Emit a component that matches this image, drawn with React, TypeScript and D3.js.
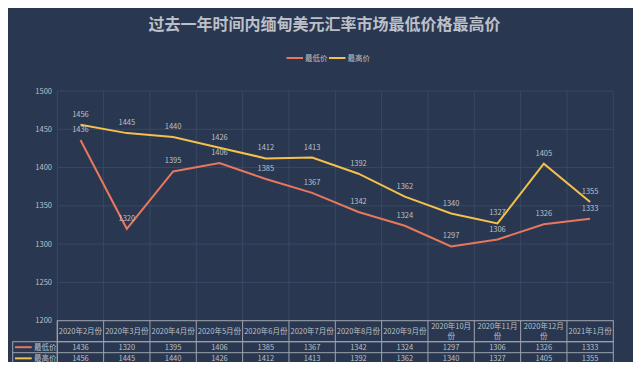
import * as d3 from "d3";

const months = [
  "2020年2月份", "2020年3月份", "2020年4月份", "2020年5月份", "2020年6月份", "2020年7月份",
  "2020年8月份", "2020年9月份", "2020年10月份", "2020年11月份", "2020年12月份", "2021年1月份",
];
const lowValues = [1436, 1320, 1395, 1406, 1385, 1367, 1342, 1324, 1297, 1306, 1326, 1333];
const highValues = [1456, 1445, 1440, 1426, 1412, 1413, 1392, 1362, 1340, 1327, 1405, 1355];
const yTicks = [1200, 1250, 1300, 1350, 1400, 1450, 1500];

const series = [
  { name: "最低价", values: lowValues, color: "#e8775d" },
  { name: "最高价", values: highValues, color: "#f3c14c" },
];

const W = 641;
const H = 370;
const BG = "#293750";
const GRID = "#3a4963";
const TEXT = "#bcc0c8";
const BORDER = "#9ea4ae";
const FONT = "'Noto Sans CJK SC', 'Noto Sans', sans-serif";

export default function App() {
  const left = 57.3;
  const right = 613.3;
  const top = 91;
  const bottom = 320.7;

  const x = d3.scaleBand<string>().domain(months).range([left, right]);
  const y = d3.scaleLinear().domain([1200, 1500]).range([bottom, top]);
  const line = d3
    .line<number>()
    .x((_, i) => (x(months[i]) ?? 0) + x.bandwidth() / 2)
    .y((d) => y(d));

  const headerBottom = 341.7;
  const row1Bottom = 352.7;
  const row2Bottom = 364;
  const tableLeft = 12.7;
  const rows = [
    [headerBottom, row1Bottom],
    [row1Bottom, row2Bottom],
  ];

  // wrap long month labels like the chart does
  const wrapLabel = (m: string) => (m.length > 8 ? [m.slice(0, 8), m.slice(8)] : [m]);

  return (
    <div style={{ margin: -8 }}>
      <svg width={W} height={H} style={{ display: "block", background: BG }} fontFamily={FONT}>
        <rect width={W} height={H} fill={BG} />
        <text x={324.5} y={30} textAnchor="middle" fill={TEXT} fontSize={16} fontWeight="bold">
          过去一年时间内缅甸美元汇率市场最低价格最高价
        </text>

        {/* legend */}
        {series.map((s, i) => {
          const lx = 286.5 + i * 42.5;
          return (
            <g key={s.name}>
              <line x1={lx} x2={lx + 16.5} y1={58} y2={58} stroke={s.color} strokeWidth={2} />
              <text x={lx + 18.5} y={60.7} fill={TEXT} fontSize={7.5}>
                {s.name}
              </text>
            </g>
          );
        })}

        {/* grid */}
        {yTicks.map((t) => (
          <g key={t}>
            <line x1={left} x2={right} y1={y(t)} y2={y(t)} stroke={GRID} strokeWidth={1} />
            <text x={52} y={y(t) + 2.6} textAnchor="end" fill={TEXT} fontSize={7.5}>
              {t}
            </text>
          </g>
        ))}
        {months.map((m) => (
          <line key={m} x1={x(m)} x2={x(m)} y1={top} y2={bottom} stroke={GRID} strokeWidth={1} />
        ))}
        <line x1={right} x2={right} y1={top} y2={bottom} stroke={GRID} strokeWidth={1} />

        {/* lines */}
        {series.map((s) => (
          <path key={s.name} d={line(s.values) ?? ""} fill="none" stroke={s.color} strokeWidth={2} />
        ))}

        {/* value labels */}
        {series.map((s) =>
          s.values.map((v, i) => (
            <text
              key={s.name + i}
              x={(x(months[i]) ?? 0) + x.bandwidth() / 2}
              y={y(v) - 8}
              textAnchor="middle"
              fill={TEXT}
              fontSize={7.5}
            >
              {v}
            </text>
          )),
        )}

        {/* data table */}
        <g fill="none" stroke={BORDER} strokeWidth={1}>
          <rect x={left} y={bottom} width={right - left} height={headerBottom - bottom} />
          <rect x={tableLeft} y={headerBottom} width={right - tableLeft} height={row2Bottom - headerBottom} />
          <line x1={tableLeft} x2={right} y1={row1Bottom} y2={row1Bottom} />
          <line x1={left} x2={left} y1={headerBottom} y2={row2Bottom} />
          {months.map((m) => (
            <line key={m} x1={x(m)} x2={x(m)} y1={bottom} y2={row2Bottom} />
          ))}
        </g>
        {months.map((m) => {
          const parts = wrapLabel(m);
          const cx = (x(m) ?? 0) + x.bandwidth() / 2;
          const cy = (bottom + headerBottom) / 2;
          return (
            <text key={m} x={cx} textAnchor="middle" fill={TEXT} fontSize={7.5}>
              {parts.map((p, j) => (
                <tspan key={j} x={cx} y={cy + 2.6 + (j - (parts.length - 1) / 2) * 9.5}>
                  {p}
                </tspan>
              ))}
            </text>
          );
        })}
        {series.map((s, r) => {
          const [y0, y1] = rows[r];
          const cy = (y0 + y1) / 2;
          return (
            <g key={s.name}>
              <line x1={15} x2={31.7} y1={cy} y2={cy} stroke={s.color} strokeWidth={2} />
              <text x={34} y={cy + 2.6} fill={TEXT} fontSize={7.5}>
                {s.name}
              </text>
              {s.values.map((v, i) => (
                <text
                  key={i}
                  x={(x(months[i]) ?? 0) + x.bandwidth() / 2}
                  y={cy + 2.6}
                  textAnchor="middle"
                  fill={TEXT}
                  fontSize={7.5}
                >
                  {v}
                </text>
              ))}
            </g>
          );
        })}
      </svg>
    </div>
  );
}
